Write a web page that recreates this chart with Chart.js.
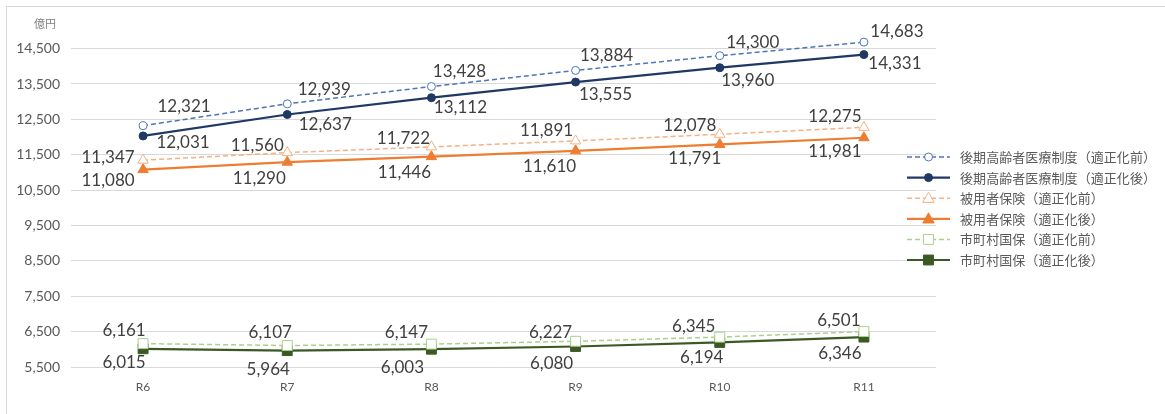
<!DOCTYPE html>
<html lang="ja">
<head>
<meta charset="utf-8">
<title>医療給付費の推移</title>
<script src="https://cdn.jsdelivr.net/npm/chart.js@4/dist/chart.umd.min.js"></script>
<style>
  html, body { margin: 0; padding: 0; background: #fff; }
  #wrap { position: relative; width: 1165px; height: 414px; overflow: hidden; }
  #frame { position: absolute; left: 6px; top: 6px; width: 1170px; height: 420px;
           border: 1px solid #d9d9d9; box-sizing: border-box; pointer-events: none; }
  #unit { position: absolute; left: 34px; top: 15px; font: 11px "Noto Sans CJK JP", sans-serif; color: #7f7f7f; }
</style>
</head>
<body>
<div id="wrap">
  <canvas id="grafico" width="1165" height="414"></canvas>
  <div id="frame"></div>
  <div id="unit">億円</div>
</div>
<script>
// データ
const categories = ['R6', 'R7', 'R8', 'R9', 'R10', 'R11'];
const seriesNames = [
    '後期高齢者医療制度（適正化前）',
    '後期高齢者医療制度（適正化後）',
    '被用者保険（適正化前）',
    '被用者保険（適正化後）',
    '市町村国保（適正化前）',
    '市町村国保（適正化後）'
];
const koukiBefore = [12321, 12939, 13428, 13884, 14300, 14683];
const koukiAfter = [12031, 12637, 13112, 13555, 13960, 14331];
const hiyoBefore = [11347, 11560, 11722, 11891, 12078, 12275];
const hiyoAfter = [11080, 11290, 11446, 11610, 11791, 11981];
const kokuhoBefore = [6161, 6107, 6147, 6227, 6345, 6501];
const kokuhoAfter = [6015, 5964, 6003, 6080, 6194, 6346];
const yTicks = [5500, 6500, 7500, 8500, 9500, 10500, 11500, 12500, 13500, 14500];

// ラベルの位置 (点からのずれ)
const labelOffsets = [
    [[41, -19], [37, -14], [28, -15], [31, -15], [33, -13], [33, -11]],
    [[40, 7], [38, 10], [29, 10], [30, 12], [28, 13], [31, 9]],
    [[-35, -3], [-30, -7], [-28, -8], [-29, -10], [-30, -9], [-29, -11]],
    [[-35, 11], [-28, 16], [-27, 16], [-26, 16], [-25, 14], [-29, 14]],
    [[-19, -13], [-17, -13], [-25, -12], [-25, -9], [-26, -11], [-25, -11]],
    [[-19, 14], [-19, 19], [-29, 18], [-24, 17], [-18, 15], [-24, 16]]
];

const fmt = v => v.toLocaleString('en-US');

function drawMarker(ctx, style, x, y, r) {
    ctx.beginPath();
    if (style === 'circle') {
        ctx.arc(x, y, r, 0, Math.PI * 2);
    } else if (style === 'triangle') {
        ctx.moveTo(x, y - r);
        ctx.lineTo(x + r * 0.95, y + r * 0.7);
        ctx.lineTo(x - r * 0.95, y + r * 0.7);
        ctx.closePath();
    } else {
        const s = r * Math.SQRT1_2;
        ctx.rect(x - s, y - s, 2 * s, 2 * s);
    }
    ctx.fill();
    ctx.stroke();
}

// データラベル
const valueLabels = {
    id: 'valueLabels',
    afterDatasetsDraw(chart) {
        const ctx = chart.ctx;
        ctx.save();
        ctx.font = '17px Lato, sans-serif';
        ctx.fillStyle = '#404040';
        ctx.textAlign = 'center';
        ctx.textBaseline = 'middle';
        chart.data.datasets.forEach((ds, i) => {
            chart.getDatasetMeta(i).data.forEach((pt, j) => {
                const off = labelOffsets[i][j];
                ctx.fillText(fmt(ds.data[j]), pt.x + off[0], pt.y + off[1]);
            });
        });
        ctx.restore();
    }
};

// 凡例 (右側)
const sideLegend = {
    id: 'sideLegend',
    afterDraw(chart) {
        const ctx = chart.ctx;
        ctx.save();
        ctx.font = '13px "Noto Sans CJK JP", sans-serif';
        ctx.letterSpacing = '0px';
        const longest = seriesNames[0];
        const w = ctx.measureText(longest).width;
        const ls = Math.max(0, (196 - w) / longest.length);
        ctx.restore();
        chart.data.datasets.forEach((ds, i) => {
            const y = 157 + i * 20.6;
            ctx.save();
            ctx.strokeStyle = ds.borderColor;
            ctx.lineWidth = ds.borderWidth;
            ctx.setLineDash(ds.borderDash || []);
            ctx.beginPath();
            ctx.moveTo(907, y);
            ctx.lineTo(950, y);
            ctx.stroke();
            ctx.setLineDash([]);
            ctx.fillStyle = ds.pointBackgroundColor;
            ctx.strokeStyle = ds.pointBorderColor;
            ctx.lineWidth = ds.pointBorderWidth;
            drawMarker(ctx, ds.pointStyle, 928.5, y, ds.pointRadius);
            ctx.fillStyle = '#595959';
            ctx.font = '13px "Noto Sans CJK JP", sans-serif';
            ctx.letterSpacing = ls.toFixed(2) + 'px';
            ctx.textAlign = 'left';
            ctx.textBaseline = 'middle';
            ctx.fillText(ds.label, 960, y);
            ctx.restore();
        });
    }
};

function serie(label, data, color, dashed, style, radius, fill) {
    return {
        label: label,
        data: data,
        borderColor: color,
        backgroundColor: color,
        borderWidth: dashed ? 1.5 : 2.2,
        borderDash: dashed ? [5, 3] : [],
        pointStyle: style,
        pointRadius: radius,
        pointHoverRadius: radius,
        pointBackgroundColor: fill,
        pointBorderColor: color,
        pointBorderWidth: 1,
        tension: 0,
        clip: false
    };
}

const datasets = [
    serie(seriesNames[0], koukiBefore, '#4f74b8', true, 'circle', 4, '#ffffff'),
    serie(seriesNames[1], koukiAfter, '#1f3864', false, 'circle', 4, '#1f3864'),
    serie(seriesNames[2], hiyoBefore, '#f4b183', true, 'triangle', 6, '#ffffff'),
    serie(seriesNames[3], hiyoAfter, '#ed7d31', false, 'triangle', 6, '#ed7d31'),
    serie(seriesNames[4], kokuhoBefore, '#a9d18e', true, 'rect', 7, '#ffffff'),
    serie(seriesNames[5], kokuhoAfter, '#3b5a23', false, 'rect', 7, '#3b5a23')
];

Chart.defaults.font.family = 'Lato, "Noto Sans CJK JP", sans-serif';

new Chart(document.getElementById('grafico').getContext('2d'), {
    type: 'line',
    data: { labels: categories, datasets: datasets },
    options: {
        responsive: false,
        animation: false,
        layout: { padding: { top: 38, right: 229, bottom: 0, left: 0 } },
        plugins: {
            legend: { display: false },
            tooltip: { enabled: false }
        },
        scales: {
            x: {
                offset: true,
                grid: { display: false, drawTicks: false, tickLength: 0 },
                border: { display: false },
                ticks: { color: '#595959', font: { size: 12 }, padding: 13 },
                afterFit: s => { s.height = 47; }
            },
            y: {
                min: 5500,
                max: 14800,
                grid: { color: '#d9d9d9', lineWidth: 1, drawTicks: false, tickLength: 0 },
                border: { display: false },
                ticks: {
                    color: '#595959',
                    font: { size: 14 },
                    padding: 11,
                    stepSize: 1000,
                    callback: v => fmt(v)
                },
                afterBuildTicks: s => { s.ticks = yTicks.map(v => ({ value: v })); },
                afterFit: s => { s.width = 71; }
            }
        }
    },
    plugins: [valueLabels, sideLegend]
});
</script>
</body>
</html>
